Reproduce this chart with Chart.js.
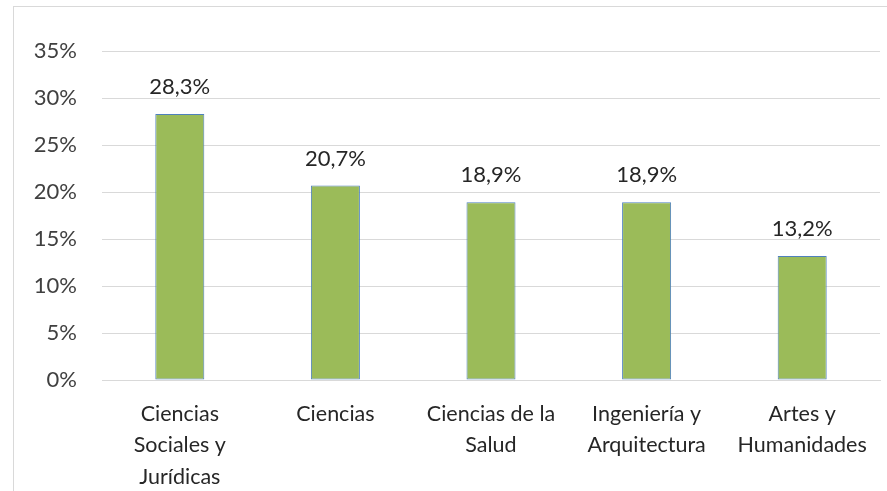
<!DOCTYPE html>
<html>
<head>
<meta charset="utf-8">
<script src="https://cdn.jsdelivr.net/npm/chart.js@4"></script>
<style>
    html, body { margin: 0; padding: 0; background: #fff; overflow: hidden; }
    #wrap { position: relative; width: 887px; height: 491px; }
    #frame { position: absolute; left: 13px; top: 6px; width: 900px; height: 500px; border: 1px solid #d9d9d9; box-sizing: border-box; }
    canvas { position: absolute; left: 0; top: 0; }
</style>
</head>
<body>
<div id="wrap">
    <div id="frame"></div>
    <canvas id="chart" width="887" height="491"></canvas>
</div>
<script>
// ===============================
// DATOS
// ===============================
const categories = [
    ["Ciencias", "Sociales y", "Jurídicas"],
    "Ciencias",
    ["Ciencias de la", "Salud"],
    ["Ingeniería y", "Arquitectura"],
    ["Artes y", "Humanidades"]
];
const values = [28.3, 20.7, 18.9, 18.9, 13.2];
const yTicks = [0, 5, 10, 15, 20, 25, 30, 35];

const textColor = "#404040";
const fontFamily = "Lato, 'Open Sans', sans-serif";

const fmtPct = (v) => `${v.toFixed(1).replace(".", ",")}%`;

// etiquetas encima de cada barra
const barLabels = {
    id: "barLabels",
    afterDatasetsDraw(chart) {
        const ctx = chart.ctx;
        const meta = chart.getDatasetMeta(0);
        ctx.save();
        ctx.fillStyle = "#262626";
        ctx.font = `22px ${fontFamily}`;
        ctx.textAlign = "center";
        ctx.textBaseline = "bottom";
        meta.data.forEach((bar, i) => {
            ctx.fillText(fmtPct(values[i]), bar.x, bar.y - 16);
        });
        ctx.restore();
    }
};

new Chart(document.getElementById("chart"), {
    type: "bar",
    data: {
        labels: categories,
        datasets: [{
            data: values,
            backgroundColor: "#9bbb59",
            borderColor: "#4f81bd",
            borderWidth: 1,
            borderSkipped: false,
            categoryPercentage: 1,
            barPercentage: 0.315
        }]
    },
    options: {
        responsive: false,
        animation: false,
        layout: { padding: { top: 51, right: 7, left: 0, bottom: 0 } },
        plugins: {
            legend: { display: false },
            tooltip: { enabled: false }
        },
        scales: {
            x: {
                grid: { display: false },
                border: { color: "#d9d9d9" },
                ticks: {
                    color: "#262626",
                    font: { family: fontFamily, size: 21.5, lineHeight: 1.47 },
                    maxRotation: 0,
                    autoSkip: false,
                    padding: 10
                },
                afterFit: (s) => { s.height = 111; }
            },
            y: {
                min: 0,
                max: 35,
                afterBuildTicks: (s) => { s.ticks = yTicks.map((v) => ({ value: v })); },
                grid: { color: "#d9d9d9", drawTicks: false },
                border: { display: false },
                ticks: {
                    color: textColor,
                    font: { family: fontFamily, size: 22 },
                    padding: 25,
                    callback: (v) => `${v}%`
                },
                afterFit: (s) => { s.width = 102; }
            }
        }
    },
    plugins: [barLabels]
});
</script>
</body>
</html>
